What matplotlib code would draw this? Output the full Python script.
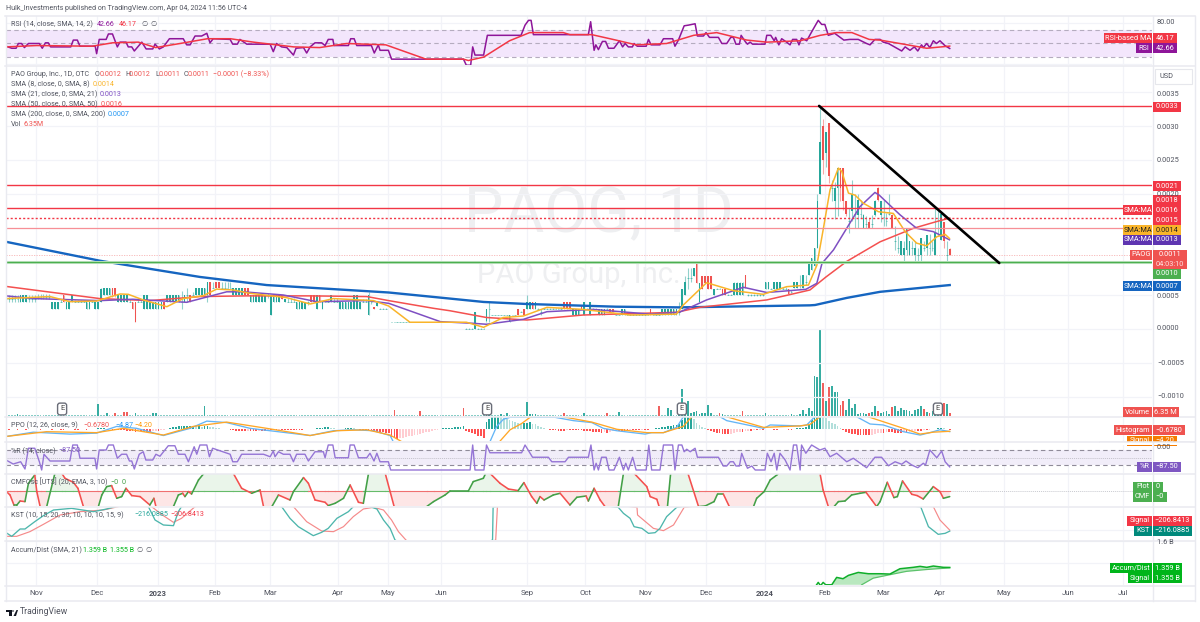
import numpy as np
import matplotlib
matplotlib.use("Agg")
import matplotlib.pyplot as plt
from matplotlib.patches import Rectangle, Polygon, Circle
from matplotlib.lines import Line2D

plt.rcParams['font.family'] = ['Roboto', 'DejaVu Sans']

# ---------- DATA (price values are in units of 0.0001 USD; x = trading-bar number) ----------
# (first bar, number of bars, open, close, high, low)
CANDLES = [
 (0,5,4.5,4.5,5,4),(5,3,4,5,5,4),(8,3,4.5,4.5,5,4),(11,5,4.7,4.7,5.2,4.5),(16,3,3,4,4,3),(19,1,4,4,4.4,4),
 (20,1,5,4,5,4),(21,2,3,4,4,3),(23,1,4,5,5,4),(24,4,4,4,4.3,4),(28,2,3,4,4,3),(30,1,4,4,4.3,4),(31,2,3,4,4,3),
 (33,1,4,5.9,6,4),(34,3,5,6,6,5),(37,2,6,5,6,4.7),(39,4,4,5,5,4),(43,1,4,4,4.4,4),(44,1,4,3,4,3),(45,1,4,1,4,1),
 (46,2,4,4,4.5,4),(48,2,3,5,5,3),(50,5,3,4,4,3),(55,1,4,3,4,3),(56,5,4,5,5,4),(61,1,4,4,5.6,3),(62,1,4,5,5,4),
 (63,1,5,5,6,4),(64,1,5,4,5,4),(65,1,5,5,5.5,5),(66,4,5,6,6,5),(70,1,5,7,7,4),(71,1,7,5,7,5),(72,1,6,6,7,6),
 (73,2,7,6,7,6),(75,4,6,6,7,6),(79,4,5,6,6,5),(83,2,6,5,6,5),(85,6,4,5,5,4),(91,1,5,5,5.3,4.6),(92,1,2,5,5,2),
 (93,3,4,5,5,4),(96,1,5,4.5,5,4.5),(97,1,4,4.5,4.5,4),(98,3,4,4,4.6,4),(101,4,3,4,4,3),(105,1,4,4,4.2,3.6),
 (106,2,5,4,5,4),(108,1,3,5,5,3),(109,1,5,4,5,4),(110,1,3,4,4,3),(111,2,4,4,4.3,4),(113,1,4,5,5,4),(114,2,4,4,4.6,4),
 (116,5,3,4,4,3),(121,2,3,5,5,3),(123,1,3,4,4,3),(124,2,4,4,4.5,4),(126,1,2,5,5.4,2),(127,1,4,4,4.3,3.7),
 (128,1,3.2,3,3.2,3),(129,1,3.4,3.8,3.8,3.4),(130,3,3,3,3.1,3),(134,26,1,1,1.1,1),(160,3,0,0,0.1,0),
 (163,1,0,2.5,2.5,0),(164,3,0,0,0.1,0),(167,1,1.2,3,3,1),(168,1,3,3,4,1),(169,6,2,2,2.1,2),(175,1,1,2,2,1),
 (176,2,2,2,2.1,2),(178,1,3,2,3,2),(179,1,2.5,2.5,2.6,2.5),(180,1,3,2,3,2),(181,1,3,4,5,3),(182,1,3,4,4,3),
 (183,1,4,3,4,3),(184,1,3,4,4,3),(185,1,3,3,3.1,3),(186,1,2.5,2.5,3,2),(187,6,3,3,3.1,3),(193,1,3,3,3.3,3),
 (194,3,4,3,4,3),(197,3,2,3,3,2),(200,1,3.5,3,3.5,3),(201,1,2,4,4,2),(202,1,3,3,3.1,3),(203,1,2,4,4,2),
 (204,2,3,3,3.1,3),(206,3,2,3,3,2),(209,1,3,3,3.1,3),(210,2,3,2.5,3,2.5),(212,2,2,2,2.1,2),(214,2,2,3,3,2),
 (216,8,2,2,2.2,2),(224,1,3,2,3,2),(225,3,2,2,2.2,2),(228,6,2,3,3,2),(234,1,2.5,2.5,4,2),(235,1,3,5.9,5.9,3),
 (236,1,5,6.9,7.8,5),(237,1,7.5,7.5,9,5.9),(238,1,7.5,7.5,9,6.9),(239,1,7.8,9,9,7.8),(240,1,9.7,6.85,9.9,6.85),
 (241,1,4,6.85,6.85,4),(242,1,7.8,5.9,7.8,5.9),(243,1,7.8,6.85,7.8,6.85),(244,1,7.8,5.9,7.8,5.9),(245,1,7.8,5.9,7.8,5.9),
 (246,1,5,5.9,5.9,5),(247,2,5.9,5.9,6.1,5.9),(249,2,5.9,5,5.9,5),(251,2,5,5,5.2,5),(253,4,5,6.85,7,5),(257,1,8,6,8,6),
 (258,6,5,5,5.2,4.9),(264,2,5.9,6.9,6.9,5.9),(266,1,5.9,5.9,6.1,5.9),(267,2,5.9,6.9,6.9,5.9),(269,1,5.9,6.9,6.9,5.9),
 (270,2,5.9,5.9,6.2,5.9),(272,1,5.9,5.2,5.9,5.2),(273,1,5.5,5.5,5.7,5.3),(274,2,6,7,7,6),(276,1,6.5,6.5,8,6),
 (277,1,6,8,8,6),(278,1,7,7,8,6.5),(279,1,8,9.9,10,8),(280,1,8.8,10.5,10.5,8.8),(281,1,9.3,12,12,9.3),(282,1,12,19,20,12),
 (283,1,19.9,27.7,33,19.9),(284,1,30,25,31,23),(285,1,26,29.1,29.1,24),(286,1,30.4,22.6,30.4,21.6),(287,1,20.8,20.8,22,19),
 (288,1,18.9,20.8,21.7,16.2),(289,1,20.8,23.8,23.8,16.7),(290,1,23.8,20.8,23.8,19),(291,1,23.8,18.9,23.8,17.6),
 (292,1,19,17,19,16.7),(293,1,16,16,17.9,14.2),(294,1,17.4,19.9,22,16),(295,1,17,17,19.9,15),(296,1,16.9,19.1,19.9,14.9),
 (297,1,17,17,19.1,16.4),(298,1,14.9,16.9,17,14.9),(299,1,15.5,15.5,16.7,14.9),(300,1,15.9,14.9,16.4,14.9),
 (301,1,15.5,15.5,16.9,14.9),(302,1,16.9,18.9,19.1,16.7),(303,1,20.8,19.1,21,18.9),(304,1,16.9,18.9,19,15.9),
 (305,1,16.5,16.5,19.1,15.2),(306,1,16,16,17.1,15.2),(307,1,17,17,19.9,16.9),(308,1,16.9,14.9,17,14.9),(309,1,13,13,15.2,11.7),
 (310,1,12,12,13.7,11.2),(311,1,11,13,13,11),(312,1,11,12,13,10),(313,1,11.7,14.9,14.9,11),(314,1,11,13,13,11),
 (315,1,12,12,13,11),(316,1,11,12,13,9.9),(317,1,11,11,12,9.9),(318,1,11,13.5,13.5,10),(319,1,12,12,13,11.5),
 (320,1,12,13.9,13.9,11),(321,1,12,12,14,11),(322,1,12,12,13,11.5),(323,1,11,14.2,17.9,11),(324,1,15,15,17.9,13.7),
 (325,1,13.2,17,17,13.2),(326,1,15.9,13,15.9,12),(327,1,11,11,13,9.9),(328,1,11.8,11,12,11),
]

VOLUME_M = [
 2,2,3,2,5,2,2,3,2,2, 2,2,3,2,2,3,2,2,2,2, 3,2,2,2,2,2,3,2,2,3, 2,2,24,3,3,6,3,2,6,2,
 2,8,8,3,2,6,3,2,3,2, 2,6,6,3,2,2,3,3,2,3, 2,3,2,2,3,3,2,2,3,20, 3,2,3,3,2,2,3,2,2,2,
 3,2,2,2,3,2,2,2,3,2, 2,2,2,3,2,2,2,3,2,2, 3,2,2,2,2,3,2,2,2,2, 2,3,2,2,2,2,3,2,2,2,
 3,2,2,2,2,2,3,2,2,2, 2,2,3,2,2,12,3,2,2,2, 2,2,2,2,10,3,2,2,2,2, 2,2,2,2,3,2,2,2,2,16,
 2,2,3,2,2,2,2,4,6,3, 2,3,5,3,6,3,2,2,3,2, 3,28,4,4,4,3,2,2,2,2, 2,2,2,3,6,2,2,2,2,2,
 2,6,3,2,3,2,2,3,2,6, 2,2,3,8,3,2,2,2,2,2, 2,3,2,2,2,2,3,20,2,3, 16,12,2,3,4,54,8,30,6,8,
 10,4,6,6,22,6,3,3,6,4, 3,2,3,3,2,2,10,3,3,2, 3,2,2,3,6,3,2,2,3,2, 2,3,2,4,3,2,5,12,4,16,
 10,80,78,174,66,30,58,60,48,48, 22,30,12,34,16,24,4,6,6,4, 6,8,20,10,6,8,10,4,18,20,
 10,16,12,12,10,4,12,14,20,14, 8,6,10,10,10,10,26,24,6]
VOLUME_DOWN = [38,41,42,135,144,159,194,209,227,248,256,284,286,290,291,300,303,308,319,321,326,328]

HIST = [
 1,-1,1,1,-1,1,1,-1,1,1, 1,1,-1,1,1,1,-1,1,1,-1, -1,1,1,1,-1,-1,1,1,-1,1, 1,1,2,2,2,1,1,-1,-1,-1,
 -1,-2,-3,-4,-4,-5,-4,-4,-5,-5, -5,-4,-3,-3,-2,-1,1,3,4,5, 6,7,7,7,7,7,6,6,5,6, 6,5,4,3,2,1,1,1,-1,-2,
 -3,-4,-4,-4,-3,-3,-4,-4,-3,-3, -3,-2,-2,-2,-2,-1,-1,-1,-1,-1, -1,-1,-1,-1,1,1,1,1,2,3, 3,4,4,3,2,1,1,1,2,3,
 3,2,1,-1,-1,-3,-4,-4,-5,-5, -5,-6,-7,-8,-17,-19,-20,-19,-18,-17, -15,-14,-12,-11,-9,-8,-6,-5,-4,-2, -1,1,2,3,3,3,4,4,5,6,
 -4,-6,-8,-10,-13,-15,-19,15,22,26, 28,28,26,24,22,20,18,16,14,12, 14,14,15,12,10,7,5,3,1,-1, -2,-2,-3,-3,-3,-2,-2,-2,-2,-2,
 -2,-3,-3,-4,-5,-6,-6,-7,-6,-7, -5,-4,-3,-3,-3,-3,-3,-2,-2,-2, -2,-1,-1,-1,1,1,2,3,4,5, 6,7,8,9,12,20,26,28,28,22,
 14,8,4,2,-1,-3,-5,-7,-8,-9, -10,-10,-9,-7,-6,-5,-5,-4,-3,-3, -2,-2,-1,-1,1,1,1,-1,-1,1, 1,1,-1,-1,1,2,2,3,5,8,
 20,28,30,30,28,24,18,14,10,6, 3,-2,-5,-7,-9,-10,-11,-11,-11,-12, -12,-11,-9,-8,-7,-7,-6,-6,-6,-7, -7,-7,-6,-6,-5,-4,-3,-3,-3,-2,
 -2,-1,1,1,2,3,2,1,-0.68]

SMA200_X = [0,32.6,67.4,90.6,133,154.3,166,181,212,234,279.4,281.2,292.2,303.8,328]
SMA200_Y = [12.9,10.1,7.7,6.5,5.4,4.5,4.0,3.7,3.3,3.2,3.5,3.55,4.6,5.5,6.5]
SMA50_X = [0,32.6,50,67.4,83.6,105.7,125.4,133,148.6,154.3,167,181,200.6,233,241,264.4,279.4,285,292.2,303.8,315.4,323.5,328]
SMA50_Y = [6.3,4.5,4.2,4.8,4.9,4.9,4.8,4.2,3.06,2.7,1.7,1.33,2.07,2.47,3.2,4.3,5.77,7.7,10,12.9,14.9,15.9,16.4]
SMA21_X = [0,9.5,32.7,44,62.8,76.7,82.5,96.4,108,125.4,133,151,162.4,167,179.8,188,204,223.8,234,243.5,256.3,264.4,278,281.8,283.6,287.6,296.8,302,303.5,310.7,316.5,322.3,327.9]
SMA21_Y = [4.9,4.5,4.2,4.4,3.95,5.5,5.5,5.03,4.04,4.2,3.8,1.08,0.84,0.7,1.43,2.56,2.9,2.2,2.47,4.3,6.17,5.4,5.87,6.76,9.7,11.7,18.1,20.2,19.8,16.9,14.9,14.4,13.2]
SMA8_X = [0,15.3,22.2,31.5,39.6,42.5,47.7,55.9,61.6,68.6,73.2,79,84.8,97.6,105.7,113.8,127.7,133,140.4,160,166,172.8,179.8,188,200.6,216.9,233,235.4,243.5,252.8,263.2,271.3,278.9,281.8,284.1,286.4,289.3,290.5,292.8,295.1,298,303.2,308.4,312.5,316.5,320,323.5,326.4,327.9]
SMA8_Y = [4.5,4.8,4.04,4.14,5.18,5.13,4.3,3.3,4.5,4.93,5.9,5.77,5.28,4.63,3.7,4.5,4.2,3.4,1.0,1.0,0.25,1.7,1.92,3.2,2.9,2.07,2.2,3.55,6.85,5.67,5.13,6.26,6.5,9.4,14.9,20.6,23.8,23.3,20.1,19.8,18.6,17.35,17.1,14.4,12.7,12.3,13.65,14,13.4]

RSI_X = [0,2,3.5,4.3,5.4,6.4,7.8,11.6,12.6,13.7,14.7,15.5,22.5,23.4,24.8,25.7,31,31.5,32.4,34.8,35.6,37,38.7,39.6,41.7,42.5,43.7,44.6,47.2,48.7,51,51.8,53.3,54.7,56.8,61.6,62.8,64,65.7,68,69.8,70.9,72,77.9,78.8,80.4,81.3,83.7,91.8,92.9,94,95.8,97.6,99.9,100.8,103.4,104.5,105.7,107.4,109.7,110.9,112,113.6,114,119,119.8,121,121.9,127,128,129.4,130,132.9,134,159,160,161.5,162.2,163,166,167.3,179,180.4,181.6,182.5,183.3,195.5,202.4,203.2,204.4,205,205.9,207.3,208.4,209.4,211.3,213.2,214.3,215.2,216.3,217.7,218.3,219.4,222.5,223.3,224.2,227.3,228.5,231.7,232.5,233.7,235.7,237.2,239.5,240.3,242.4,243.3,244.5,247.6,248.8,250.5,251.9,252.8,253.7,254.9,255.5,256.9,257.7,258.6,259.5,263.8,264.4,265.8,267,267.5,268.6,269.6,271.3,272.5,273.4,274.8,275.6,276.5,278.3,280,282.3,283.5,284.6,285.8,288,291.2,293.3,296.2,299.1,300.3,302,303.8,304.9,306.7,311.3,312.5,314.2,315.7,316.9,318.2,318.8,320,321.1,322.3,323.4,324.6,326.3,328]
RSI_Y = [46,43,43,50,50,44,50,50,43,51,51,45,45,55,55,46,46,35,56,56,64,64,45,52,52,45,45,39,52,42,42,49,42,45,57,57,48,48,61,61,65,51,57,56,49,49,56,49,49,38,50,45,44,33,43,44,36,45,51,51,47,56,56,47,47,57,57,47,47,36,48,40,40,27,27,18,18,45,33,33,62,62,77,84,84,63,63,63,82,40,48,41,53,53,43,43,54,45,50,45,45,50,46,46,56,48,48,57,57,46,55,76,77,79,61,61,66,59,59,50,50,59,59,49,49,62,53,49,52,49,49,62,62,54,59,48,57,52,48,56,56,48,58,54,67,84,78,78,62,65,55,56,56,50,48,56,56,52,50,39,45,40,45,39,48,44,50,44,54,50,54,47,42.66]
RSIMA_X = [0,10.7,30,37,46,52,60.5,70,78,86,100,109,118.4,132,146,159,160.7,166,175,182,193.7,196,203.6,212,219,229.6,239,247,257.5,264.4,276,283,288.7,294,300,303.8,312,320,328]
RSIMA_Y = [45,47,46,51,52,44,50,57,57,52,45,44,50,48,27,27,25,30,54,66,66,63,63,55,48,50,62,66,55,52,54,62,66,66,56,55,49,43,46.17]

PPO_X = [0,9.5,22.2,31.5,38.5,45.4,54.7,64,69.8,76.7,84.8,98.7,105.7,113.8,120.7,127.7,133.5,134.6,150,168.2,170.5,172.9,175.2,190.8,197.2,203.6,207.6,212.3,222.1,224.4,228.5,233.1,235.4,242,248.2,250.5,263.3,265.6,276,278.3,280.6,283,295.7,300.3,304.9,311.9,317.7,321.1,324.6,328]
PPO_Y = [-15,-6,-10,-8,6,2,-13,2,17,14,2,-8,-13,-3,-1,-3,-13,-26,-45,-26,5.5,21,25,25,18,14,2,-3,-10,-7,-7,4,26,50,26,18,2,9,7,9,23,50,26,11,9,-5,-12,-7,-1,-4.87]
PPOS_X = [0,14,31.5,40.8,54.7,65.1,76.7,90.6,105.7,115,125.4,133.5,137.6,155,171.5,175.2,179.2,182.4,188,193.7,203.6,212.3,222.7,228.5,235.4,238.3,244,250.5,263.3,276,279.4,282.9,290,299.7,311.9,317.7,322.3,328]
PPOS_Y = [-15,-5,-7,2,-12,6,15,2,-13,-3,-1,-12,-26,-45,-26,-1,12,26,32,26,15,0,-7,-7,6,26,40,26,4,7,10,26,45,26,2,-10,-6,-4.2]

WILLR_X = [0,2.5,5.1,6.6,7.8,10,11.6,12.4,13.2,15.3,22.2,23.2,24.8,25.7,30.9,31.5,32.4,34.8,35.6,37.3,38.7,40.2,41.9,42.9,43.7,44.6,46.3,47.7,48.6,51,52.1,53.5,56.4,58.7,59.9,62.2,63.4,65.4,66.3,67.4,69.8,70.7,71.8,77.9,78.8,80.4,81.9,89.5,91.8,92.9,93.5,94.7,96.4,98.7,99.9,101,103.9,105.1,107.4,110.3,110.9,112,113.6,114.4,119,119.6,121,122.5,125.4,126.5,127.9,128.9,130,132.9,133.7,161.3,162.2,163,166.1,167,168.2,179.2,180.4,183,188.5,189.7,194.3,195.5,202.4,203.3,204.4,205.1,205.9,207,208.6,209.6,211.3,213.2,214.6,215.4,216.3,217.8,219,222.5,223.4,224.4,227.3,228.5,231.7,232.5,233.7,234.9,235.7,236.6,237.8,239.5,240.3,247.6,249.3,250.5,251.7,252.8,253.7,254.9,255.7,257.7,259.2,260.4,263.8,264.6,265.9,267,267.9,269,270.8,272.5,273.7,274.8,276,276.5,278,280,282.9,284.6,286.4,288.7,292.2,294.5,299.1,302,304.3,306.7,309,311.3,312.8,314.8,316.9,318.8,319.6,321.1,323.5,325.2,326.4,328]
WILLR_Y = [-60,-76,-67,-96,-13,-13,-67,-100,-37,-64,-64,0,0,-53,-53,-96,-20,-20,0,0,-53,-37,-37,-64,-64,-96,-37,-27,-60,-60,-37,-45,-3,-3,-37,-37,-67,-7,-37,0,0,-47,-13,-37,-67,-67,-37,-37,-47,-24,-47,-27,-37,-37,-67,-37,-37,-64,-27,-27,-51,0,0,-51,-51,0,0,-51,-51,-33,-64,-33,-67,-67,-100,-100,0,-100,-100,0,-31,-31,0,-49,-49,-67,-67,-49,-49,0,-100,-73,-100,-49,-49,-100,-100,-49,-100,-73,-100,-49,-100,-100,0,-100,-100,0,0,-100,0,0,-27,-17,-27,-13,-49,-49,-84,-84,-67,-67,-84,-84,-33,-93,-84,-100,-100,-33,-67,-33,-100,-33,-60,-100,0,0,-100,0,-33,0,-20,-13,-47,-33,-67,-53,-91,-49,-49,-83,-67,-77,-64,-80,-91,-73,-80,-20,-51,-24,-67,-87.5]

CMF_X = [0,1.4,2.8,3.7,4.9,6.6,7.8,10,10.7,12,14,17,19.4,20.5,23.4,25,26.9,32.1,33.3,35,36.7,38.5,40.2,41.7,43.7,46.6,50,51.4,52.4,58.2,59.9,61.4,62.2,63.4,64.5,66.9,68.8,79,81.9,85.4,88.3,89.5,92.4,94.7,98.7,99.9,103.4,105.1,107.4,110.9,112,114.4,117.3,119.6,122.5,124.2,126,131.8,133.5,134.9,146.2,148.6,152.6,154.3,160.7,162.4,165.9,167,168.2,171.7,174.6,178,180,182.7,184.5,185.6,187,190.2,192.6,196,198.4,201.6,202.4,204.4,206.5,208.2,212.8,214.6,218.3,222.7,223.9,226.2,227,229.9,231,237,240.7,243,246.1,247.3,249.3,251.4,259.8,260.9,263.5,265.6,267.9,268.5,282.9,284,285.8,287.8,289.3,291.6,293.9,296.8,298.9,300.9,302.6,303.8,306.3,308.6,309.8,311.6,314.8,316.7,318.8,322.3,324.6,325.8,328]
CMF_Y = [0,-3.7,-14,-14,-9.7,-10.3,8,16.3,-0.3,-17,-17,18,18,13,9,3,-15.3,-15.3,-3.7,4.7,5.7,-7,-5.3,3,-4.3,-5.3,-13.7,-7,-18.7,-15.3,-3.7,-2,-5.3,-0.3,-2.7,11.3,18,18,3,-2,1.3,-15.3,-15.3,-3.7,-8.7,-0.3,13.7,8,-8.7,-11,-14.3,-12,-7,6.3,-11,-12,18,18,-0.3,-15.3,-15.3,-10.3,-3.7,0.3,0.3,9.7,13,19.7,18,8,2.3,0.7,8.7,-5.3,-12,-5.3,-8.7,-3.7,-2,-13.7,-6,-4.7,-9.7,3,-8.7,-15.3,-15.3,18,18,4.7,-5.3,-8,-15.3,-15.3,18,18,-15.3,-14.7,-10.3,-2.7,-2.7,-15.3,-15.3,-7,-0.3,11.3,16.3,18,18,1.3,-15.3,-15.3,-10.3,-9.7,-3.7,-2,-1,-8.7,-15.3,-10.3,9,-6.3,-5.3,10.3,-3,-4.3,-7.7,4.7,-0.3,-7,-5.3]

KST_X = [0,2,4.9,6.6,10,13,16.5,22.8,30.4,35,37.9,44,49.5,51.8,54.7,58.2,59.9,61,79,95.8,98.7,101.6,106.8,109.7,112,115,119,120.7,123.6,126.5,128.9,131.2,133.5,135.2,150,169.1,169.3,190,212.8,214.6,216.9,218.3,221,223.3,225.6,227.3,229.6,233.1,260,317.9,320.6,324,326.4,328]
KST_Y = [-230,-263,-197,-197,-131,-77,-26,-11,-41,-17,4,40,4,-116,-161,-167,-41,4,60,4,-101,-176,-257,-227,-191,-101,-41,4,49,4,-17,-116,-191,-296,-500,-296,1,70,-2,-56,-101,-176,-191,-236,-230,-191,-86,-2,100,4,-176,-245,-236,-216.09]
KSTS_X = [0,3.7,8.3,13,18.8,25.7,33.8,39,44,50.6,54.7,58.2,61,65.7,79,99.9,104.5,109.7,113.8,117.3,120.7,124.2,127.7,131.2,134,136.4,139,150,170.2,170.8,190,219.3,219.5,225,228.5,232,235.7,270,322.3,324.6,328]
KSTS_Y = [-263,-263,-221,-155,-71,-41,-26,4,40,4,-77,-137,-101,4,60,4,-131,-215,-221,-176,-86,-17,-2,-26,-116,-221,-296,-500,-296,4,80,-2,-71,-191,-212,-161,-2,100,4,-116,-206.84]

AD_X = [281.5,282.3,283.1,284,284.9,287,288.7,290.9,292.8,296.2,299.7,303.8,307.2,310.7,315.3,317.7,320,322.3,325.8,328]
AD_Y = [1.19,1.221,1.19,1.221,1.199,1.199,1.267,1.255,1.286,1.313,1.301,1.301,1.298,1.347,1.36,1.369,1.36,1.372,1.36,1.359]
ADS_X = [297.4,301.4,307.2,313,320,328]
ADS_Y = [1.199,1.26,1.292,1.323,1.34,1.355]

LEVELS = [33.05, 21.3, 17.9, 16.4, 14.87, 10.9, 9.9]
TREND_X = [282.6, 345.2]
TREND_Y = [33.0, 9.76]
EARNINGS = [19.5, 167.2, 234.9, 323.9]
MONTH_X = [10.4,31.6,52.8,72.6,91.8,115.4,132.8,151.2,181.1,201.3,222.1,243.4,263.8,284.7,304.8,324.7,346.9,369.1,388.3]
MONTH_LABELS = ['Nov','Dec','2023','Feb','Mar','Apr','May','Jun','Sep','Oct','Nov','Dec','2024','Feb','Mar','Apr','May','Jun','Jul']
PRICE_TICKS = [0.0035,0.0030,0.0025,0.0020,0.0005,0.0000,-0.0005,-0.0010]
PRICE_UNIT = 1e-4

# ---------- LAYOUT ----------
W, H = 1200, 622
L, R = 6, 1152
XLIM = (0, 398.3)
TEAL, RED = '#26a69a', '#ef5350'
LINE_RED = '#f23645'
GRID = '#f2f3f8'
SEP = '#e9eaf0'
TXT = '#50535e'
FS = 5.1

fig = plt.figure(figsize=(W/100, H/100), dpi=100, facecolor='white')

def panel(y0, y1, ylim, z=2):
    ax = fig.add_axes([L/W, 1-y1/H, (R-L)/W, (y1-y0)/H], zorder=z)
    ax.set_xlim(*XLIM); ax.set_ylim(*ylim)
    ax.patch.set_alpha(0)
    for s in ax.spines.values():
        s.set_visible(False)
    ax.set_xticks([]); ax.set_yticks([])
    return ax

def vgrid(ax):
    for m in MONTH_X:
        ax.axvline(m, color=GRID, lw=0.9, zorder=0)

def hgrid(ax, vals):
    for v in vals:
        ax.axhline(v, color=GRID, lw=0.9, zorder=0)

def fx(x): return x/W
def fy(y): return 1-y/H

def txt(x, y, s, color=TXT, size=FS, **kw):
    kw.setdefault('va', 'center'); kw.setdefault('ha', 'left')
    return fig.text(fx(x), fy(y), s, color=color, fontsize=size, zorder=7, **kw)

def tag(x0, x1, yc, s, bg, fg='white', h=10.0):
    fig.add_artist(Rectangle((fx(x0), fy(yc+h/2)), (x1-x0)/W, h/H, transform=fig.transFigure,
                             fc=bg, ec='none', zorder=5))
    fig.text(fx((x0+x1)/2), fy(yc), s, color=fg, fontsize=5.3, ha='center', va='center', zorder=6)

# ---------- RSI ----------
rsi = panel(16, 65, (18.4, 90.4))
vgrid(rsi); hgrid(rsi, [80, 60, 40, 20])
rsi.axhspan(30, 70, color='#f3e6fc', lw=0, zorder=0.5)
for v in (70, 50, 30):
    rsi.axhline(v, color='#b5acbf', lw=0.8, ls=(0, (4, 3)), zorder=1)
rsi.plot(RSIMA_X, RSIMA_Y, color=LINE_RED, lw=1.1, zorder=3)
rsi.plot(RSI_X, RSI_Y, color='#8e1599', lw=1.1, zorder=2.5)

# ---------- PRICE + VOLUME ----------
main_lim = ((329-416)/67600, (329-66)/67600)
vol = panel(66, 416, (0, 700), z=1)
vgrid(vol)
main = panel(66, 416, main_lim, z=2)
for p in PRICE_TICKS:
    main.axhline(p, color=GRID, lw=0.9, zorder=0)
vol.text(fx(599), fy(215), 'PAOG, 1D', transform=fig.transFigure, fontsize=45, color='#eeeff1',
         ha='center', va='center', zorder=0.5)
vol.text(fx(579), fy(275), 'PAO Group, Inc.', transform=fig.transFigure, fontsize=21, color='#eeeff1',
         ha='center', va='center', zorder=0.5)

vol_x = np.arange(len(VOLUME_M))
vol_c = [RED if i in VOLUME_DOWN else TEAL for i in vol_x]
vol_a = [0.55 if VOLUME_M[i] <= 3 else 0.92 for i in vol_x]
for i in vol_x:
    vol.bar(i, VOLUME_M[i], width=0.62, color=vol_c[i], lw=0, alpha=vol_a[i], zorder=2)

for start, n, o, c, hi, lo in CANDLES:
    col = TEAL if c >= o else RED
    for i in range(start, start+n):
        main.vlines(i, lo*PRICE_UNIT, hi*PRICE_UNIT, color=col, lw=0.8, alpha=0.5, zorder=2)
        if o == c:
            main.hlines(c*PRICE_UNIT, i-0.3, i+0.3, color=col, lw=0.7, alpha=0.6, zorder=2)
        else:
            main.bar(i, abs(c-o)*PRICE_UNIT, bottom=min(o, c)*PRICE_UNIT, width=0.6, color=col, lw=0, zorder=2.2)

SMA_COLS = {'8': '#f9b42a', '21': '#7e4fc2', '50': '#f4504f', '200': '#1565c0'}
main.plot(SMA200_X, np.array(SMA200_Y)*PRICE_UNIT, color=SMA_COLS['200'], lw=1.7, zorder=3)
main.plot(SMA50_X, np.array(SMA50_Y)*PRICE_UNIT, color=SMA_COLS['50'], lw=1.1, zorder=3.1)
main.plot(SMA21_X, np.array(SMA21_Y)*PRICE_UNIT, color=SMA_COLS['21'], lw=1.1, zorder=3.2)
main.plot(SMA8_X, np.array(SMA8_Y)*PRICE_UNIT, color=SMA_COLS['8'], lw=1.1, zorder=3.3)

lv = np.array(LEVELS)*PRICE_UNIT
for v in lv[:3]:
    main.axhline(v, color=LINE_RED, lw=1.0, zorder=4)
main.axhline(lv[3], color=LINE_RED, lw=1.0, ls=(0, (1.5, 1.5)), zorder=4)
main.axhline(lv[4], color='#f78f96', lw=0.9, zorder=4)
main.axhline(lv[5], color='#f7b4b4', lw=0.6, ls=(0, (1.5, 1.5)), zorder=1.5)
main.axhline(lv[6], color='#c9e8cb', lw=2.2, zorder=3.9)
main.axhline(lv[6], color='#4caf50', lw=1.0, zorder=4)
main.plot(TREND_X, np.array(TREND_Y)*PRICE_UNIT, color='black', lw=1.9, zorder=5, solid_capstyle='round')

for e in EARNINGS:
    main.text(e, (329-409)/67600, 'E', fontsize=5.4, color='#444', ha='center', va='center', zorder=6,
              bbox=dict(boxstyle='round,pad=0.32', fc='white', ec='#6a6d78', lw=1.0))

# ---------- PPO ----------
ppo = panel(417, 441, (-24.4, 25.6))
vgrid(ppo)
hist_cols = []
for i, v in enumerate(HIST):
    prev = HIST[i-1] if i else v
    if v >= 0:
        hist_cols.append('#26a69a' if v >= prev else '#b2dfdb')
    else:
        hist_cols.append('#ff5252' if v <= prev else '#ffcdd2')
ppo.bar(np.arange(len(HIST)), HIST, width=0.62, color=hist_cols, lw=0, zorder=2)
ppo.plot(PPO_X, PPO_Y, color='#64b5f6', lw=0.95, zorder=3)
ppo.plot(PPOS_X, PPOS_Y, color='#ffa726', lw=0.95, zorder=3.1)

# ---------- %R ----------
wr = panel(442, 473, (-112, 12))
vgrid(wr)
wr.axhspan(-80, -20, color='#f1edf9', lw=0, zorder=0.5)
for v in (-20, -80):
    wr.axhline(v, color='#8f8b99', lw=0.8, ls=(0, (4, 3)), zorder=1)
wr.axhline(-50, color='#c4c2cb', lw=0.7, ls=(0, (1, 1)), zorder=1)
wr.plot(WILLR_X, WILLR_Y, color='#9575d6', lw=1.0, zorder=3)

# ---------- CMF ----------
cmf = panel(474, 506, (-14.7, 17.3))
vgrid(cmf)
cx, cy = np.array(CMF_X), np.array(CMF_Y)
cmf.fill_between(cx, cy, 0, where=cy >= 0, interpolate=True, color='#eaf5ea', lw=0, zorder=1)
cmf.fill_between(cx, cy, 0, where=cy <= 0, interpolate=True, color='#fde6e6', lw=0, zorder=1)
cmf.axhline(0, color='#c9cad0', lw=0.7, ls=(0, (1, 1)), zorder=1.2)
for a in range(len(cx)-1):
    side = (cy[a]+cy[a+1])/2
    cmf.plot(cx[a:a+2], [0, 0], color='#66bb6a' if side >= 0 else '#ef7070', lw=0.8, zorder=1.5)
    col = '#43a047' if cy[a+1] >= cy[a] else '#f4504f'
    cmf.plot(cx[a:a+2], cy[a:a+2], color=col, lw=1.15, zorder=3, solid_capstyle='round')

# ---------- KST ----------
kst = panel(507, 540, (-296, 1))
vgrid(kst); hgrid(kst, [-206])
kst.plot(KSTS_X, KSTS_Y, color='#f58a8a', lw=0.85, zorder=3)
kst.plot(KST_X, KST_Y, color='#4db6ac', lw=0.95, zorder=3.1)

# ---------- Accum/Dist ----------
adp = panel(541, 585, (1.197, 1.603))
vgrid(adp); hgrid(adp, [1.4, 1.6])
adp.add_patch(Polygon(list(zip(AD_X[4:], AD_Y[4:])) + list(zip(ADS_X[::-1], ADS_Y[::-1])),
                      closed=True, fc='#b9e8bf', ec='none', zorder=1))
adp.plot(ADS_X, ADS_Y, color='#5cc26b', lw=0.9, zorder=2)
adp.plot(AD_X, AD_Y, color='#0fae2a', lw=1.1, zorder=3)

# ---------- time axis ----------
tax = panel(585, 601, (0, 1))
for m, lab in zip(MONTH_X, MONTH_LABELS):
    bold = lab in ('2023', '2024')
    tax.text(m, 0.5, lab, fontsize=5.6, color=TXT, ha='center', va='center',
             fontweight='bold' if bold else 'normal')

# ---------- frame lines ----------
for y in (16, 65.5, 416.5, 441.5, 473.5, 506.5, 540.5, 585.5, 601):
    fig.add_artist(Line2D([fx(5), fx(1195)], [fy(y), fy(y)], color=SEP, lw=1.1, zorder=4))
for x in (5.5, 1152.5, 1195):
    fig.add_artist(Line2D([fx(x), fx(x)], [fy(16), fy(601)], color=SEP, lw=1.0, zorder=4))

# ---------- price scale tick labels ----------
for v, y in [('80.00', 23), ('0.0035', 94), ('0.0030', 127), ('0.0025', 161), ('0.0020', 194),
             ('0.0005', 296), ('0.0000', 329), ('\u22120.0005', 363), ('\u22120.0010', 397), ('0.00', 447.5),
             ('1.6 B', 543)]:
    txt(1157, y, v, size=5.3)

# USD box
fig.add_artist(Rectangle((fx(1154.5), fy(83.5)), 37/W, 15/H, transform=fig.transFigure, fc='white', ec='#e6e7ec', lw=0.8, zorder=5))
fig.text(fx(1159), fy(76), 'USD', fontsize=5.3, color=TXT, va='center', zorder=6)

# ---------- right tags ----------
PURPLE, BLUE, GREEN = '#5e35b1', '#1565c0', '#4caf50'
ORANGE = '#f9b42a'
tag(1152.5, 1177, 38, '46.17', LINE_RED)
tag(1104, 1152, 38, 'RSI-based MA', LINE_RED)
tag(1152.5, 1177, 48, '42.66', '#8e1599')
tag(1136, 1152, 48, 'RSI', '#8e1599')
tag(1152.5, 1181, 107, '0.0033', LINE_RED)
tag(1152.5, 1181, 186, '0.0021', LINE_RED)
tag(1152.5, 1181, 200, '0.0018', LINE_RED)
tag(1152.5, 1181, 210, '0.0016', LINE_RED)
tag(1123, 1152, 210, 'SMA:MA', LINE_RED)
tag(1152.5, 1181, 220, '0.0015', LINE_RED)
tag(1152.5, 1181, 230, '0.0014', ORANGE, '#222')
tag(1123, 1152, 230, 'SMA:MA', ORANGE, '#222')
tag(1152.5, 1181, 240, '0.0013', PURPLE)
tag(1123, 1152, 240, 'SMA:MA', PURPLE)
tag(1152.5, 1187, 259.5, '', RED, h=19)
txt(1169.5, 255, '0.0011', 'white', size=5.3, ha='center')
txt(1169.5, 264, '04:03:10', '#ffe0e0', size=5.3, ha='center')
tag(1130, 1152, 255, 'PAOG', RED)
tag(1152.5, 1181, 273.5, '0.0010', GREEN)
tag(1152.5, 1181, 286, '0.0007', BLUE)
tag(1123, 1152, 286, 'SMA:MA', BLUE)
tag(1123, 1152, 412, 'Volume', RED)
tag(1152.5, 1179, 412, '6.35 M', RED)
tag(1114, 1152, 430, 'Histogram', RED)
tag(1152.5, 1185, 430, '\u22120.6780', RED)
tag(1127, 1152, 440.5, 'Signal', '#f57c00')
tag(1152.5, 1177, 440.5, '\u22124.20', '#f57c00')
fig.add_artist(Rectangle((fx(1100), fy(444.5)), 90/W, 3/H, transform=fig.transFigure, fc='white', ec='none', zorder=6.5))
fig.add_artist(Line2D([fx(1152.5), fx(1152.5)], [fy(441.5), fy(444.5)], color=SEP, lw=1.0, zorder=6.6))
fig.add_artist(Line2D([fx(1100), fx(1195)], [fy(441.5), fy(441.5)], color=SEP, lw=1.1, zorder=6.6))
tag(1137, 1152, 467, '%R', '#7e57c2')
tag(1152.5, 1181, 467, '\u221287.50', '#7e57c2')
tag(1133, 1152, 487, 'Plot', GREEN)
tag(1152.5, 1163, 487, '0', GREEN)
tag(1133, 1152, 497, 'CMF', GREEN)
tag(1152.5, 1167, 497, '\u22120', GREEN)
tag(1127, 1152, 521, 'Signal', LINE_RED)
tag(1152.5, 1192, 521, '\u2212206.8413', LINE_RED)
tag(1134, 1152, 531, 'KST', '#00897b')
tag(1152.5, 1192, 531, '\u2212216.0885', '#00897b')
tag(1110, 1152, 568, 'Accum/Dist', '#00b51a')
tag(1152.5, 1182, 568, '1.359 B', '#00b51a')
tag(1128, 1152, 578, 'Signal', '#00b51a')
tag(1152.5, 1182, 578, '1.355 B', '#00b51a')

# ---------- legends ----------
txt(6, 9, 'Hulk_Investments published on TradingView.com, Apr 04, 2024 11:56 UTC-4')
DIM = '#ef5350'
txt(11, 24, 'RSI (14, close, SMA, 14, 2)')
txt(97, 24, '42.66', '#8e1599'); txt(119, 24, '46.17', LINE_RED)
txt(141, 24, '\u2205'); txt(150, 24, '\u2205')
txt(11, 74, 'PAO Group, Inc., 1D, OTC')
for x, a, xv, b in [(95, 'O', 99.5, '0.0012'), (125, 'H', 129, '0.0012'), (155, 'L', 159, '0.0011'), (184, 'C', 188, '0.0011')]:
    txt(x, 74, a); txt(xv, 74, b, DIM)
txt(213, 74, '\u22120.0001 (\u22128.33%)', DIM)
txt(11, 84, 'SMA (8, close, 0, SMA, 8)'); txt(92.7, 84, '0.0014', SMA_COLS['8'])
txt(11, 94.5, 'SMA (21, close, 0, SMA, 21)'); txt(100, 94.5, '0.0013', SMA_COLS['21'])
txt(11, 104.7, 'SMA (50, close, 0, SMA, 50)'); txt(100.7, 104.7, '0.0016', SMA_COLS['50'])
txt(11, 114.7, 'SMA (200, close, 0, SMA, 200)'); txt(107.7, 114.7, '0.0007', '#2196f3')
txt(11, 124.5, 'Vol'); txt(23, 124.5, '6.35M', DIM)
txt(11, 425.7, 'PPO (12, 26, close, 9)')
txt(83, 425.7, '\u22120.6780', DIM); txt(115, 425.7, '\u22124.87', '#2196f3'); txt(134, 425.7, '\u22124.20', '#ff9800')
txt(11, 451, '%R (14, close)'); txt(58, 451, '\u221287.50', '#7e57c2')
txt(11, 482, 'CMFOsc [UTS] (20, EMA, 3, 10)'); txt(110.7, 482, '\u22120', '#43a047'); txt(122, 482, '0', '#43a047')
txt(11, 515, 'KST (10, 15, 20, 30, 10, 10, 10, 15, 9)')
txt(134, 515, '\u2212216.0885', '#26a69a'); txt(170.7, 515, '\u2212206.8413', LINE_RED)
txt(11, 550, 'Accum/Dist (SMA, 21)'); txt(83, 550, '1.359 B', '#00b51a'); txt(110, 550, '1.355 B', '#00b51a')
txt(136.7, 550, '\u2205'); txt(145.7, 550, '\u2205')

# TradingView mark
fig.add_artist(Rectangle((fx(6), fy(612)), 5.5/W, 2.2/H, transform=fig.transFigure, fc='#131722', ec='none'))
fig.add_artist(Rectangle((fx(8.5), fy(616)), 3/W, 6/H, transform=fig.transFigure, fc='#131722', ec='none'))
fig.add_artist(Circle((fx(13), fy(611)), 1.1/W, transform=fig.transFigure, fc='#131722', ec='none'))
fig.add_artist(Polygon([(fx(13.5), fy(616)), (fx(16.5), fy(610)), (fx(18), fy(610)), (fx(16), fy(616))],
                       closed=True, transform=fig.transFigure, fc='#131722', ec='none'))
txt(20, 612, 'TradingView', '#50535e', size=6.2)

fig.savefig('out.png', dpi=100)
